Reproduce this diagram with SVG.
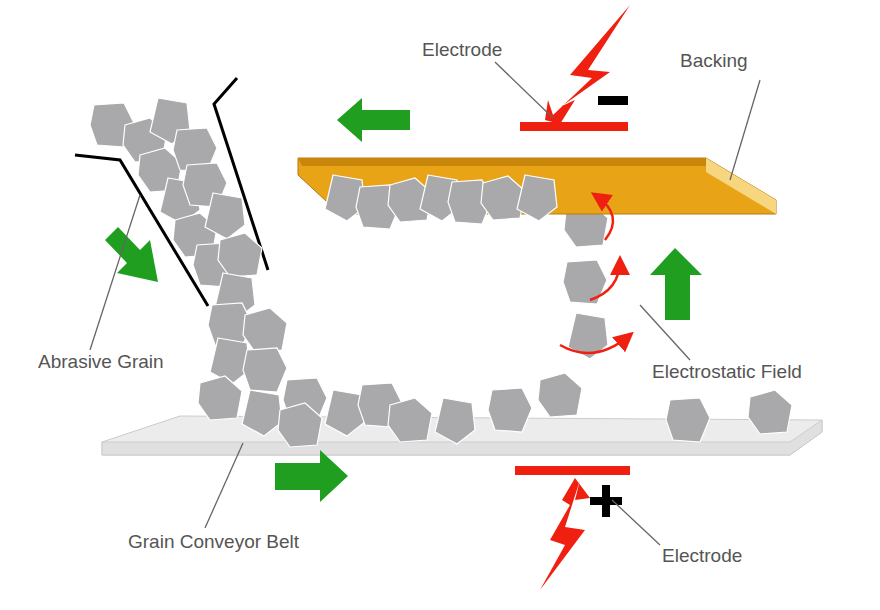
<svg xmlns="http://www.w3.org/2000/svg" xmlns:xlink="http://www.w3.org/1999/xlink" width="880" height="610" viewBox="0 0 880 610">
<style>
.lbl{font-family:"Liberation Sans",Arial,sans-serif;font-size:19px;fill:#555}
.lead{stroke:#666;stroke-width:1.3;fill:none}
.g{fill:#a9a9ab;stroke:#fff;stroke-width:1.2}
.blk{stroke:#000;stroke-width:3;fill:none}
.green{fill:#1f9e1f}
.red{fill:#f02010}
.rarc{stroke:#f02010;stroke-width:2.5;fill:none}
</style>
<defs>
<polygon id="g1" class="g" points="-18,-20 12,-22 22,-2 12,22 -15,20 -22,0"/>
<polygon id="g2" class="g" points="-20,-15 5,-22 22,-7 17,20 -10,22 -22,5"/>
<polygon id="g3" class="g" points="-12,-22 17,-17 20,10 2,24 -20,12"/>
<marker id="ah" markerWidth="8" markerHeight="8" refX="6" refY="4" orient="auto"><path d="M0,0 L8,4 L0,8 z" fill="#f02010"/></marker>
</defs>
<rect width="880" height="610" fill="#fff"/>
<g id="belt">
<polygon points="180,416 822,420 822,432 790,455 102,455 102,442" fill="#ececec" stroke="#ccc"/>
<polygon points="102,442 790,442 822,420 822,432 790,455 102,455" fill="#e0e0e0" stroke="#ccc"/>
</g>
<g id="chute">
<polyline class="blk" points="75,155 120,160 208,306"/>
<polyline class="blk" points="237,78 214,104 268,270"/>
</g>
<g id="grains">
<use href="#g1" x="112" y="125"/><use href="#g2" x="145" y="140"/><use href="#g3" x="170" y="120"/>
<use href="#g2" x="160" y="170"/><use href="#g1" x="195" y="150"/><use href="#g3" x="180" y="200"/>
<use href="#g1" x="205" y="185"/><use href="#g2" x="195" y="235"/><use href="#g3" x="225" y="215"/>
<use href="#g1" x="215" y="265"/><use href="#g2" x="240" y="255"/><use href="#g3" x="235" y="295"/>
<use href="#g1" x="230" y="325"/><use href="#g2" x="265" y="330"/><use href="#g3" x="230" y="360"/>
<use href="#g1" x="265" y="370"/><use href="#g2" x="220" y="398"/><use href="#g3" x="262" y="412"/>
<use href="#g1" x="305" y="400"/><use href="#g2" x="300" y="425"/><use href="#g3" x="345" y="412"/>
<use href="#g1" x="380" y="405"/><use href="#g2" x="410" y="420"/><use href="#g3" x="455" y="420"/>
<use href="#g1" x="510" y="410"/><use href="#g2" x="560" y="395"/><use href="#g3" x="588" y="335"/>
<use href="#g1" x="585" y="282"/><use href="#g2" x="586" y="225"/>
<use href="#g1" x="688" y="420"/><use href="#g2" x="770" y="412"/>
</g>
<g id="backing">
<polygon points="298,158 706,158 776,200 776,214 340,214 298,175" fill="#e8a317" stroke="#b57b10"/>
<polygon points="298,158 706,158 712,166 302,166" fill="#c8860a"/>
<polygon points="706,158 776,200 776,214 706,172" fill="#f7d680"/>
</g>
<g id="stuck">
<use href="#g3" x="345" y="197"/><use href="#g1" x="378" y="207"/><use href="#g2" x="410" y="200"/>
<use href="#g3" x="440" y="197"/><use href="#g1" x="470" y="202"/><use href="#g2" x="503" y="198"/>
<use href="#g3" x="537" y="197"/>
</g>
<g id="electrodes">
<polygon class="red" points="630,5 570,75 592,78 553,115 548,100 545,120 560,124 575,100 562,106 610,72 588,70"/>
<rect class="red" x="520" y="122" width="108" height="9"/>
<rect x="598" y="96" width="30" height="9" fill="#000"/>
<rect class="red" x="515" y="466" width="115" height="9"/>
<polygon class="red" points="540,590 585,530 565,527 580,480 575,500 590,498 575,478 562,500 570,505 550,540 565,545"/>
<rect x="590" y="497" width="32" height="8" fill="#000"/>
<rect x="602" y="485" width="8" height="32" fill="#000"/>
</g>
<g id="arrows">
<polygon class="green" points="337,120 362,98 362,110 410,110 410,130 362,130 362,142"/>
<polygon class="green" points="105,240 118,227 140,250 150,240 158,282 117,273 127,263"/>
<polygon class="green" points="675,248 702,275 690,275 690,320 665,320 665,275 650,275"/>
<polygon class="green" points="275,463 320,463 320,450 348,476 320,502 320,490 275,490"/>
<path class="rarc" d="M605,240 Q625,215 595,195" marker-end="url(#ah)"/>
<path class="rarc" d="M590,300 Q620,290 620,260" marker-end="url(#ah)"/>
<path class="rarc" d="M560,345 Q595,365 630,335" marker-end="url(#ah)"/>
</g>
<g id="labels">
<text class="lbl" x="422" y="56">Electrode</text>
<path class="lead" d="M495,62 L553,118"/>
<text class="lbl" x="680" y="67">Backing</text>
<path class="lead" d="M760,80 L730,180"/>
<text class="lbl" x="38" y="368">Abrasive Grain</text>
<path class="lead" d="M90,350 L140,195"/>
<text class="lbl" x="652" y="378">Electrostatic Field</text>
<path class="lead" d="M690,360 L640,305"/>
<text class="lbl" x="128" y="548">Grain Conveyor Belt</text>
<path class="lead" d="M205,528 L243,443"/>
<text class="lbl" x="662" y="562">Electrode</text>
<path class="lead" d="M660,545 L612,500"/>
</g>
</svg>
